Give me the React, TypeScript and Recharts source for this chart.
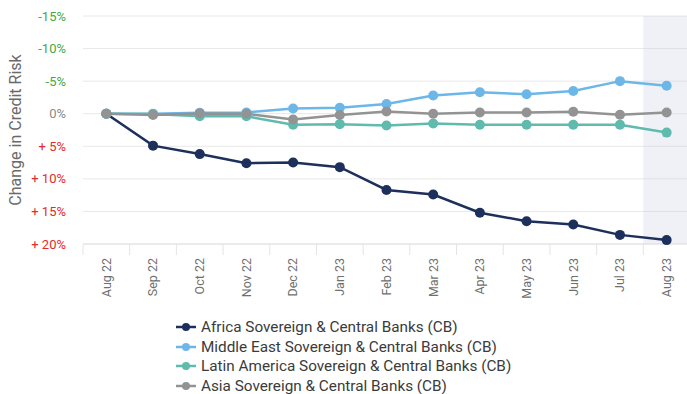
import React from 'react';
import { LineChart, Line, XAxis, YAxis, CartesianGrid, ReferenceArea, Label } from 'recharts';

// Month categories on the x axis
const months = [
  'Aug 22', 'Sep 22', 'Oct 22', 'Nov 22', 'Dec 22', 'Jan 23', 'Feb 23',
  'Mar 23', 'Apr 23', 'May 23', 'Jun 23', 'Jul 23', 'Aug 23',
];

// Change in credit risk (%) since Aug 22; positive = more risk
const africa = [0, 4.9, 6.2, 7.6, 7.5, 8.2, 11.7, 12.4, 15.2, 16.5, 17.0, 18.6, 19.4];
const middleEast = [0, 0.0, -0.15, -0.2, -0.8, -0.9, -1.5, -2.8, -3.3, -3.0, -3.5, -5.0, -4.3];
const latinAmerica = [0, 0.05, 0.4, 0.4, 1.7, 1.6, 1.8, 1.5, 1.7, 1.7, 1.7, 1.7, 2.9];
const asia = [0, 0.2, -0.05, 0.0, 0.9, 0.2, -0.35, 0.0, -0.2, -0.2, -0.3, 0.15, -0.2];

const yTicks = [-15, -10, -5, 0, 5, 10, 15, 20];
const highlightMonth = 'Aug 23';

const series = [
  { key: 'africa', name: 'Africa Sovereign & Central Banks (CB)', color: '#1d2f5b', values: africa },
  { key: 'middleEast', name: 'Middle East Sovereign & Central Banks (CB)', color: '#6db7e8', values: middleEast },
  { key: 'latinAmerica', name: 'Latin America Sovereign & Central Banks (CB)', color: '#5fbbad', values: latinAmerica },
  { key: 'asia', name: 'Asia Sovereign & Central Banks (CB)', color: '#939394', values: asia },
];

const data = months.map((month, i) => {
  const row: Record<string, string | number> = { month };
  series.forEach((s) => {
    row[s.key] = s.values[i];
  });
  return row;
});

const FONT = 'Roboto, "Noto Sans", sans-serif';
const CHART_W = 690;
const CHART_H = 394;
const Y_AXIS_W = 83;
const MARGIN = { top: 16, right: 0, bottom: 85, left: 0 };
const PLOT_W = CHART_W - Y_AXIS_W - MARGIN.left - MARGIN.right;
const BAND = PLOT_W / months.length;

const YTick = (props: any) => {
  const { x, y, payload } = props;
  const v = payload.value as number;
  const fill = v < 0 ? '#46a843' : v > 0 ? '#e32b2b' : '#8a8a8a';
  const text = v > 0 ? `+ ${v}%` : `${v}%`;
  return (
    <text x={x} y={y} dy="0.35em" textAnchor="end" fill={fill} fontSize={13} fontFamily={FONT}>
      {text}
    </text>
  );
};

const XTick = (props: any) => {
  const { x, y, payload, index } = props;
  const left = x - BAND / 2;
  const ty = y + 14;
  return (
    <g>
      <line x1={left} x2={left} y1={y} y2={y + 11} stroke="#e4e4e4" strokeWidth={1} />
      {index === months.length - 1 && (
        <line x1={x + BAND / 2} x2={x + BAND / 2} y1={y} y2={y + 11} stroke="#e4e4e4" strokeWidth={1} />
      )}
      <text
        x={x}
        y={ty}
        dy="0.35em"
        textAnchor="end"
        transform={`rotate(-90, ${x}, ${ty})`}
        fill="#6f6f6f"
        fontSize={12.5}
        fontFamily={FONT}
      >
        {payload.value}
      </text>
    </g>
  );
};

const AxisTitle = (props: any) => {
  const { viewBox } = props;
  const cx = 15;
  const cy = viewBox.y + viewBox.height / 2;
  return (
    <text
      x={cx}
      y={cy}
      dy="0.35em"
      textAnchor="middle"
      transform={`rotate(-90, ${cx}, ${cy})`}
      fill="#6a6a6a"
      fontSize={16}
      fontFamily={FONT}
    >
      Change in Credit Risk
    </text>
  );
};

const LegendBlock = () => (
  <div
    style={{
      position: 'absolute',
      left: 176,
      top: 317.5,
      fontFamily: FONT,
      fontSize: 15.3,
      color: '#3b3b3b',
    }}
  >
    {series.map((s) => (
      <div key={s.key} style={{ display: 'flex', alignItems: 'center', height: 19.6, whiteSpace: 'nowrap' }}>
        <svg width={20} height={10} style={{ marginRight: 5, flex: 'none' }}>
          <line x1={0} x2={20} y1={5} y2={5} stroke={s.color} strokeWidth={2.5} />
          <circle cx={10} cy={5} r={4} fill={s.color} />
        </svg>
        <span>{s.name}</span>
      </div>
    ))}
  </div>
);

export default function App() {
  return (
    <div
      style={{
        position: 'absolute',
        left: 0,
        top: 0,
        width: 687,
        height: 394,
        overflow: 'hidden',
        background: '#ffffff',
      }}
    >
      <LineChart width={CHART_W} height={CHART_H} data={data} margin={MARGIN}>
        <CartesianGrid vertical={false} stroke="#e8e8e8" strokeWidth={1} />
        <ReferenceArea
          x1={highlightMonth}
          x2={highlightMonth}
          fill="#cdd2e6"
          fillOpacity={0.3}
          stroke="none"
          ifOverflow="visible"
        />
        <XAxis
          dataKey="month"
          type="category"
          scale="band"
          interval={0}
          height={65}
          tickSize={0}
          tickMargin={0}
          tickLine={false}
          axisLine={{ stroke: '#e2e2e2', strokeWidth: 1 }}
          tick={<XTick />}
        />
        <YAxis
          type="number"
          domain={[-15, 20]}
          reversed
          ticks={yTicks}
          interval={0}
          width={Y_AXIS_W}
          tickSize={0}
          tickMargin={17}
          axisLine={false}
          tickLine={false}
          tick={<YTick />}
        >
          <Label content={<AxisTitle />} />
        </YAxis>
        {series.map((s) => (
          <Line
            key={s.key}
            dataKey={s.key}
            name={s.name}
            type="linear"
            stroke={s.color}
            strokeWidth={2.5}
            dot={{ r: 5, fill: s.color, stroke: s.color, strokeWidth: 0 }}
            activeDot={false}
            isAnimationActive={false}
          />
        ))}
      </LineChart>
      <LegendBlock />
    </div>
  );
}
